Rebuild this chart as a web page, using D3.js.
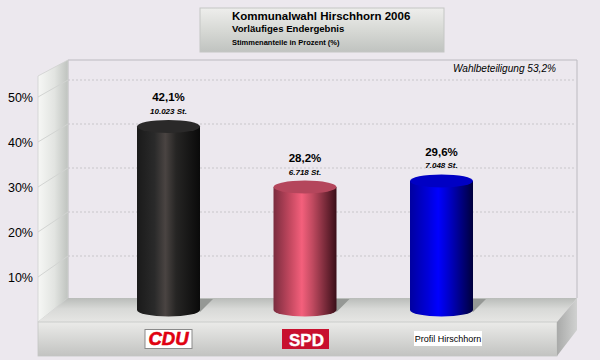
<!DOCTYPE html>
<html>
<head>
    <script src="https://d3js.org/d3.v7.min.js"></script>
    <style>
        html, body { margin: 0; padding: 0; background: #ece8ee; }
        text { font-family: "Liberation Sans", Arial, sans-serif; fill: #000; }
    </style>
</head>
<body>

<script>
const parties = ['CDU', 'SPD', 'Profil Hirschhorn'];
const percents = [42.1, 28.2, 29.6];
const percentLabels = ['42,1%', '28,2%', '29,6%'];
const voteLabels = ['10.023 St.', '6.718 St.', '7.048 St.'];
const tickValues = [10, 20, 30, 40, 50];
const gridValues = [10, 20, 30, 40, 50];
const titleLines = ['Kommunalwahl Hirschhorn 2006', 'Vorläufiges Endergebnis', 'Stimmenanteile in Prozent (%)'];
const turnoutLabel = 'Wahlbeteiligung 53,2%';

const barColors = [
    ['#1a1a1a', '#2a2a2a', '#4a4442', '#262524', '#0a0a0a', '#2a2929'],
    ['#7a2c3e', '#c84a62', '#f4607c', '#c04a60', '#3a0e18', '#b4465c'],
    ['#0000a0', '#0000d8', '#0000ff', '#0000c8', '#00003c', '#0000c4']
];

const svg = d3.select('body')
    .append('svg')
    .attr('width', 600)
    .attr('height', 360)
    .style('display', 'block');

const defs = svg.append('defs');

function addGradient(id, vertical, stops) {
    const g = defs.append('linearGradient')
        .attr('id', id)
        .attr('x1', 0).attr('y1', 0)
        .attr('x2', vertical ? 0 : 1).attr('y2', vertical ? 1 : 0);
    stops.forEach(s => g.append('stop').attr('offset', s[0]).attr('stop-color', s[1]));
}

addGradient('wallLeft', false, [[0, '#f6f7f5'], [0.55, '#e2e4e1'], [1, '#bfc3bf']]);
addGradient('floor', true, [[0, '#b9bcb9'], [0.45, '#d8d9d7'], [1, '#e6e6e4']]);
addGradient('baseFront', true, [[0, '#ebebe9'], [1, '#c2c3c1']]);
addGradient('baseSide', false, [[0, '#a9aaa9'], [1, '#d0d1d0']]);
addGradient('titleBox', true, [[0, '#eeeeec'], [0.55, '#d5d7d3'], [1, '#c0c3c0']]);

// Scales: front edge of the left wall, back wall, and the bars standing on the floor
const yFront = d3.scaleLinear().domain([0, 50]).range([322, 97]);
const yBack = d3.scaleLinear().domain([0, 50]).range([300, 80]);
const yBar = d3.scaleLinear().domain([0, 50]).range([310, 92]);
const xBar = d3.scalePoint().domain(parties).range([168.5, 441.5]);
const barRx = 31.5;
const barRy = 6.5;

// Title box
svg.append('rect')
    .attr('x', 200).attr('y', 8).attr('width', 244).attr('height', 44)
    .attr('fill', 'url(#titleBox)')
    .attr('stroke', '#c4c6c4');

const titleSizes = [11.5, 9.6, 7.5];
const titleBaselines = [20, 32, 45];
svg.selectAll('text.title')
    .data(titleLines)
    .enter()
    .append('text')
    .attr('class', 'title')
    .attr('x', 232)
    .attr('y', (d, i) => titleBaselines[i])
    .attr('font-size', (d, i) => titleSizes[i])
    .attr('font-weight', 'bold')
    .text(d => d);

// Back wall
svg.append('path')
    .attr('d', 'M68,298V60H577V298')
    .attr('fill', '#ece8ee')
    .attr('stroke', '#bcbac0');

// Left wall
svg.append('path')
    .attr('d', 'M38,76L68,60V298L38,322Z')
    .attr('fill', 'url(#wallLeft)')
    .attr('stroke', '#cfd1cf')
    .attr('stroke-width', 0.8);

// Grid lines
svg.selectAll('line.grid')
    .data(gridValues)
    .enter()
    .append('line')
    .attr('class', 'grid')
    .attr('x1', 68)
    .attr('x2', 576)
    .attr('y1', d => yBack(d))
    .attr('y2', d => yBack(d))
    .attr('stroke', '#c8c6ca')
    .attr('stroke-dasharray', '2,2');

svg.selectAll('line.wallgrid')
    .data(gridValues)
    .enter()
    .append('line')
    .attr('class', 'wallgrid')
    .attr('x1', 38)
    .attr('x2', 68)
    .attr('y1', d => yFront(d))
    .attr('y2', d => yBack(d))
    .attr('stroke', '#d2d4d2');

// Floor and base
svg.append('path')
    .attr('d', 'M68,298H577L557,322H38Z')
    .attr('fill', 'url(#floor)');

svg.append('rect')
    .attr('x', 38).attr('y', 322).attr('width', 519).attr('height', 34)
    .attr('fill', 'url(#baseFront)')
    .attr('stroke', '#c4c5c4')
    .attr('stroke-width', 0.8);

svg.append('path')
    .attr('d', 'M557,322L577,298V330L557,356Z')
    .attr('fill', 'url(#baseSide)');

// Y axis labels
const yAxis = d3.axisLeft(yFront)
    .tickValues(tickValues)
    .tickSize(0)
    .tickPadding(5)
    .tickFormat(d => d + '%');

const axisG = svg.append('g')
    .attr('transform', 'translate(38,0)')
    .call(yAxis);
axisG.select('.domain').remove();
axisG.selectAll('text')
    .attr('font-size', 12.5)
    .style('font-family', '"Liberation Sans", Arial, sans-serif')
    .attr('fill', '#000');

// Shadows on the floor
svg.selectAll('path.shadow')
    .data(parties)
    .enter()
    .append('path')
    .attr('class', 'shadow')
    .attr('d', d => {
        const right = xBar(d) + barRx;
        return `M${right - 4},299H${right + 13}L${right},${yBar(0) + 2}Z`;
    })
    .attr('fill', '#959895');

// Cylinders
parties.forEach((p, i) => {
    addGradient('bar' + i, false, [
        [0, barColors[i][0]],
        [0.28, barColors[i][1]],
        [0.45, barColors[i][2]],
        [0.62, barColors[i][3]],
        [1, barColors[i][4]]
    ]);
});

const bars = svg.selectAll('g.bar')
    .data(parties.map((p, i) => ({ party: p, value: percents[i], index: i })))
    .enter()
    .append('g')
    .attr('class', 'bar');

bars.append('path')
    .attr('d', d => {
        const x = xBar(d.party);
        const top = yBar(d.value);
        const bottom = yBar(0);
        return `M${x - barRx},${top}V${bottom}A${barRx},${barRy} 0 0 0 ${x + barRx},${bottom}V${top}Z`;
    })
    .attr('fill', d => `url(#bar${d.index})`);

bars.append('ellipse')
    .attr('cx', d => xBar(d.party))
    .attr('cy', d => yBar(d.value))
    .attr('rx', barRx)
    .attr('ry', barRy)
    .attr('fill', d => barColors[d.index][5]);

// Value labels
bars.append('text')
    .attr('x', d => xBar(d.party))
    .attr('y', d => yBar(d.value) - 25)
    .attr('text-anchor', 'middle')
    .attr('font-size', 11.5)
    .attr('font-weight', 'bold')
    .text(d => percentLabels[d.index]);

bars.append('text')
    .attr('x', d => xBar(d.party))
    .attr('y', d => yBar(d.value) - 12.5)
    .attr('text-anchor', 'middle')
    .attr('font-size', 8)
    .attr('font-weight', 'bold')
    .attr('font-style', 'italic')
    .text(d => voteLabels[d.index]);

// Turnout
svg.append('text')
    .attr('x', 556)
    .attr('y', 72)
    .attr('text-anchor', 'end')
    .attr('font-size', 10.1)
    .attr('font-style', 'italic')
    .text(turnoutLabel);

// Party logos below the bars
svg.append('rect')
    .attr('x', xBar('CDU') - 23.5).attr('y', 329.5).attr('width', 47).attr('height', 19)
    .attr('fill', '#fff').attr('stroke', '#8a8a8a');
svg.append('text')
    .attr('x', xBar('CDU'))
    .attr('y', 345)
    .attr('text-anchor', 'middle')
    .attr('font-size', 18.5)
    .attr('font-weight', 'bold')
    .attr('font-style', 'italic')
    .style('fill', '#e00010')
    .style('stroke', '#e00010')
    .style('stroke-width', 0.6)
    .text('CDU');

svg.append('rect')
    .attr('x', xBar('SPD') - 23).attr('y', 329).attr('width', 47).attr('height', 20)
    .attr('fill', '#c8102e');
svg.append('text')
    .attr('x', xBar('SPD') + 1.5)
    .attr('y', 345.5)
    .attr('text-anchor', 'middle')
    .attr('font-size', 17)
    .attr('font-weight', 'bold')
    .style('fill', '#fff')
    .style('stroke', '#fff')
    .style('stroke-width', 0.4)
    .text('SPD');

svg.append('rect')
    .attr('x', 414).attr('y', 331).attr('width', 68).attr('height', 15)
    .attr('fill', '#fff');
svg.append('text')
    .attr('x', xBar('Profil Hirschhorn') + 6.5)
    .attr('y', 341.5)
    .attr('text-anchor', 'middle')
    .attr('font-size', 9)
    .text('Profil Hirschhorn');
</script>

</body>
</html>
